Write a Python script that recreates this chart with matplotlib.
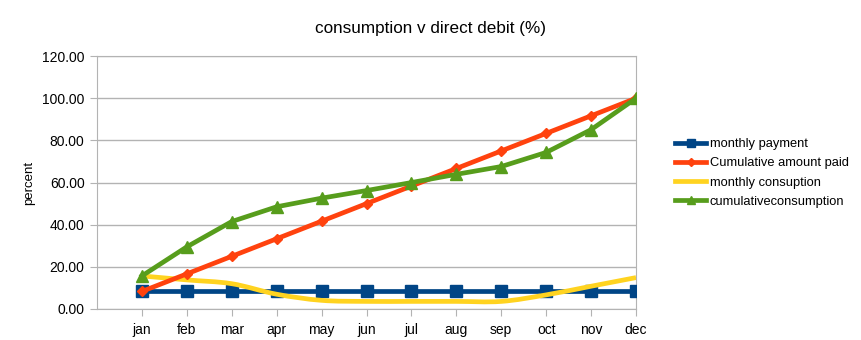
import matplotlib
matplotlib.use("Agg")
import matplotlib.pyplot as plt
import numpy as np
from matplotlib.path import Path
from matplotlib.patches import PathPatch
from matplotlib.lines import Line2D

months = ["jan", "feb", "mar", "apr", "may", "jun",
          "jul", "aug", "sep", "oct", "nov", "dec"]
monthly_payment = [8.33, 8.33, 8.33, 8.33, 8.33, 8.33,
                   8.33, 8.33, 8.33, 8.33, 8.33, 8.33]
cumulative_paid = [8.33, 16.67, 25.0, 33.33, 41.67, 50.0,
                   58.33, 66.67, 75.0, 83.33, 91.67, 100.0]
monthly_consumption = [15.7, 13.8, 12.0, 7.0, 4.1, 3.6,
                       3.6, 3.6, 3.6, 6.7, 10.8, 14.9]
cumulative_consumption = [15.7, 29.5, 41.5, 48.5, 52.6, 56.2,
                          60.0, 63.9, 67.6, 74.3, 85.1, 100.0]

BLUE = "#004586"
ORANGE = "#ff420e"
YELLOW = "#ffd320"
GREEN = "#579d1c"
GRID = "#b3b3b3"

plt.rcParams["font.family"] = ["Liberation Sans", "DejaVu Sans"]


def smooth_path(xs, ys):
    """Catmull-Rom through the points, as cubic Bezier segments."""
    pts = np.column_stack([xs, ys]).astype(float)
    verts = [pts[0]]
    codes = [Path.MOVETO]
    n = len(pts)
    for i in range(n - 1):
        p0 = pts[max(i - 1, 0)]
        p1 = pts[i]
        p2 = pts[i + 1]
        p3 = pts[min(i + 2, n - 1)]
        c1 = p1 + (p2 - p0) / 6.0
        c2 = p2 - (p3 - p1) / 6.0
        verts += [c1, c2, p2]
        codes += [Path.CURVE4] * 3
    return Path(verts, codes)


fig = plt.figure(figsize=(8.61, 3.40), dpi=100)
ax = fig.add_axes([0.1127, 0.0912, 0.6260, 0.7438])

x = np.arange(len(months))
ax.plot(x, monthly_payment, color=BLUE, lw=3.4, marker="s", ms=8,
        zorder=3, label="monthly payment")
ax.plot(x, cumulative_paid, color=ORANGE, lw=3.4, marker="D", ms=5.5,
        zorder=4, label="Cumulative amount paid")
ax.add_patch(PathPatch(smooth_path(x, monthly_consumption), fill=False,
                       edgecolor=YELLOW, lw=3.4, zorder=3.5,
                       capstyle="butt"))
ax.plot(x, cumulative_consumption, color=GREEN, lw=3.4, marker="^", ms=8,
        zorder=4, label="cumulativeconsumption")

ax.set_xlim(-1, 11)
ax.set_ylim(0, 120)
ax.set_yticks(np.arange(0, 121, 20))
ax.set_yticklabels([f"{v:.2f}" for v in range(0, 121, 20)])
ax.set_xticks(x)
ax.set_xticklabels(months)
ax.yaxis.grid(True, color=GRID, lw=1)
ax.set_axisbelow(True)
for s in ax.spines.values():
    s.set_color(GRID)
ax.tick_params(axis="both", colors=GRID, labelcolor="#000000",
               labelsize=10, length=5)
ax.tick_params(axis="y", pad=4)
ax.tick_params(axis="x", pad=5)
ax.set_ylabel("percent", fontsize=9.5, labelpad=5)

fig.text(0.5, 1 - 28 / 340, "consumption v direct debit (%)",
         ha="center", va="center", fontsize=12.3)

handles = [
    Line2D([], [], color=BLUE, lw=3.4, marker="s", ms=6),
    Line2D([], [], color=ORANGE, lw=3.4, marker="D", ms=4),
    Line2D([], [], color=YELLOW, lw=3.4),
    Line2D([], [], color=GREEN, lw=3.4, marker="^", ms=6),
]
labels = ["monthly payment", "Cumulative amount paid",
          "monthly consuption", "cumulativeconsumption"]
fig.legend(handles, labels, loc="upper left",
           bbox_to_anchor=(675 / 861, 1 - 138 / 340),
           frameon=False, fontsize=9.3, handlelength=2.4, handletextpad=0.3,
           labelspacing=0.56, borderaxespad=0.0, borderpad=0.0)

fig.savefig("out.png", dpi=100)
